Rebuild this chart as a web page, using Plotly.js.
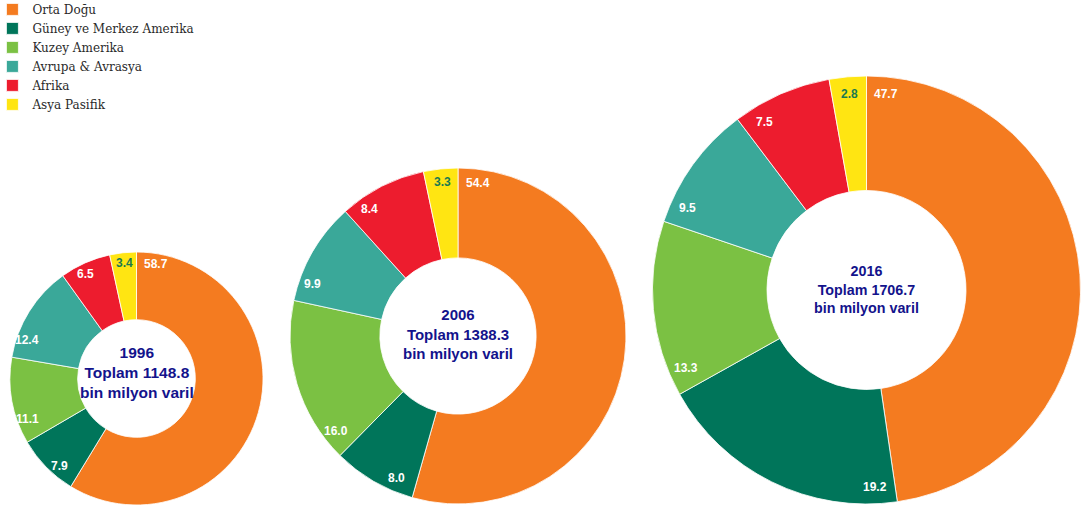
<!DOCTYPE html>
<html><head><meta charset="utf-8">
<script src="https://cdn.plot.ly/plotly-3.0.1.min.js"></script>
<style>html,body{margin:0;padding:0;background:#fff}</style>
</head><body><div id="chart" style="width:1083px;height:510px"></div>
<script>
// ---- data ----
const regions = ["Orta Doğu","Güney ve Merkez Amerika","Kuzey Amerika","Avrupa & Avrasya","Afrika","Asya Pasifik"];
const years = ["1996","2006","2016"];
const totals = [1148.8, 1388.3, 1706.7];
const shares1996 = [58.7, 7.9, 11.1, 12.4, 6.5, 3.4];
const shares2006 = [54.4, 8.0, 16.0, 9.9, 8.4, 3.3];
const shares2016 = [47.7, 19.2, 13.3, 9.5, 7.5, 2.8];

// ---- style ----
const colors = ["#F47B20","#00755A","#7BC143","#3AA899","#ED1C2E","#FFE512"];
const W = 1083, H = 510;
const boxes = [
  {x0:10, x1:263, y0:252, y1:505, fs:15.5, dy:6},
  {x0:290, x1:626, y0:168, y1:504, fs:15, dy:2},
  {x0:652.5, x1:1080.5, y0:76, y1:504, fs:14.3, dy:1}
];
const allShares = [shares1996, shares2006, shares2016];

const traces = [];
const annotations = [];
allShares.forEach((vals, i) => {
  const b = boxes[i];
  traces.push({
    type: 'pie',
    labels: regions,
    values: vals,
    sort: false,
    direction: 'clockwise',
    rotation: 0,
    hole: 0.465,
    textinfo: 'none',
    hoverinfo: 'label+value',
    marker: {colors: colors, line: {color: '#ffffff', width: 0.8}},
    domain: {x: [b.x0 / W, b.x1 / W], y: [1 - b.y1 / H, 1 - b.y0 / H]},
    showlegend: i === 0
  });
  const cx = (b.x0 + b.x1) / 2, cy = (b.y0 + b.y1) / 2, R = (b.x1 - b.x0) / 2;
  // centre text
  annotations.push({
    xref: 'paper', yref: 'paper', x: cx / W, y: 1 - (cy - b.dy) / H,
    xanchor: 'center', yanchor: 'middle', showarrow: false, align: 'center',
    text: years[i] + '<br>Toplam ' + totals[i].toFixed(1) + '<br>bin milyon varil',
    font: {family: 'Liberation Sans, Arial, sans-serif', size: b.fs, color: '#13138C', weight: 'bold'}
  });
  // value labels near the start edge of each slice
  const rL = 0.92 * R;
  const sum = vals.reduce((a, c) => a + c, 0);
  let start = 0;
  vals.forEach((v, k) => {
    const span = v / sum * 360;
    const off = Math.min(span / 2, 20 / rL * 180 / Math.PI);
    const th = (start + off) * Math.PI / 180;
    const px = cx + rL * Math.sin(th), py = cy - rL * Math.cos(th);
    annotations.push({
      xref: 'paper', yref: 'paper', x: px / W, y: 1 - py / H,
      xanchor: 'center', yanchor: 'middle', showarrow: false,
      text: v.toFixed(1),
      font: {family: 'Liberation Sans, Arial, sans-serif', size: 12, weight: 'bold',
             color: k === 5 ? '#1A7A50' : '#ffffff'}
    });
    start += span;
  });
});

const layout = {
  width: W, height: H,
  margin: {l: 0, r: 0, t: 0, b: 0, autoexpand: false},
  paper_bgcolor: '#ffffff',
  showlegend: true,
  legend: {
    x: -0.007, y: 1.01, xanchor: 'left', yanchor: 'top',
    font: {family: 'DejaVu Serif, serif', size: 12, color: '#2a2a2a'},
    traceorder: 'normal', bgcolor: 'rgba(0,0,0,0)'
  },
  annotations: annotations
};

Plotly.newPlot('chart', traces, layout, {displayModeBar: false, staticPlot: true});
</script>
</body></html>
